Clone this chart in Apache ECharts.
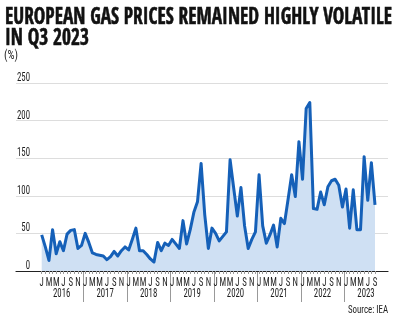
<!DOCTYPE html>
<html><head><meta charset="utf-8">
<script src="https://cdn.jsdelivr.net/npm/echarts@6/dist/echarts.min.js"></script>
<style>html,body{margin:0;padding:0;background:#fff}#c{width:400px;height:324px}</style>
</head><body><div id="c"></div>
<script>
const years = ['2016','2017','2018','2019','2020','2021','2022','2023'];
const monthLetters = ['J','F','M','A','M','J','J','A','S','O','N','D'];
const yTicks = [0, 50, 100, 150, 200, 250];
const v2016 = [48, 32, 14, 55, 23, 39, 27, 49, 54, 55, 30, 34];
const v2017 = [50, 38, 24, 22, 21, 20, 15, 19, 26, 20, 27, 32];
const v2018 = [28, 42, 57, 27, 27, 22, 16, 12, 38, 27, 37, 34];
const v2019 = [42, 36, 30, 67, 36, 55, 78, 92, 143, 75, 30, 57];
const v2020 = [50, 40, 46, 52, 148, 110, 73, 111, 60, 30, 42, 52];
const v2021 = [128, 60, 37, 48, 61, 32, 70, 63, 95, 128, 99, 172];
const v2022 = [122, 216, 224, 83, 82, 105, 88, 112, 120, 122, 114, 85];
const v2023 = [109, 57, 108, 55, 55, 152, 94, 144, 88];

const titleLine1 = 'EUROPEAN GAS PRICES REMAINED HIGHLY VOLATILE';
const titleLine2 = 'IN Q3 2023';
const unitLabel = '(%)';
const sourceLabel = 'Source: IEA';

const yearValues = [v2016, v2017, v2018, v2019, v2020, v2021, v2022, v2023];
const categories = [];
const values = [];
yearValues.forEach((arr, yi) => arr.forEach((v, mi) => {
  categories.push(years[yi] + '-' + (mi + 1));
  values.push(v);
}));

const ctx = document.createElement('canvas').getContext('2d');
function textWidth(font, s){ ctx.font = font; return ctx.measureText(s).width; }

const TITLE_FONT_FAMILY = '"Open Sans Condensed", "Roboto Condensed", "Liberation Sans", sans-serif';
const AXIS_FONT_FAMILY = '"Roboto Condensed", "DejaVu Sans Condensed", "Liberation Sans", sans-serif';
const titleFont = 'bold 23.5px ' + TITLE_FONT_FAMILY;
const titleScale = 387 / textWidth(titleFont, titleLine1);
const axisFontSize = 12;
const axisScale = 13 / textWidth(axisFontSize + 'px ' + AXIS_FONT_FAMILY, '250');
const unitFont = '13px ' + AXIS_FONT_FAMILY;
const unitScale = 14 / textWidth(unitFont, unitLabel);
const srcFont = '11.5px ' + AXIS_FONT_FAMILY;
const srcScale = 40 / textWidth(srcFont, sourceLabel);

const chart = echarts.init(document.getElementById('c'), null, {renderer: 'canvas'});
const gridTop = 83, gridBottom = 53;
const axisText = {fontFamily: AXIS_FONT_FAMILY, fontSize: axisFontSize, color: '#1e1e1e', lineHeight: 10};
const titleStyle = {font: titleFont, fill: '#111', stroke: '#111', lineWidth: 0.6, verticalAlign: 'middle', align: 'left'};
const option = {
  animation: false,
  backgroundColor: '#ffffff',
  grid: [
    {left: 16, right: 12, top: gridTop, bottom: gridBottom, outerBoundsMode: 'none'},
    {left: 41.7, right: 25, top: gridTop, bottom: gridBottom, outerBoundsMode: 'none'},
    {left: 39.9, right: 12.3, top: 271, height: 31, outerBoundsMode: 'none'}
  ],
  xAxis: [
    {gridIndex: 0, type: 'value', min: 0, max: 1, axisLine: {show: true, onZero: false, lineStyle: {color: '#222', width: 1.2}},
     axisTick: {show: false}, axisLabel: {show: false}, splitLine: {show: false}},
    {gridIndex: 1, type: 'category', data: categories, boundaryGap: false,
     axisLine: {show: false}, axisTick: {show: true, interval: 0, length: 3, lineStyle: {color: '#999'}},
     axisLabel: Object.assign({interval: 0, margin: 7, verticalAlign: 'top',
       formatter: (v, i) => (i % 2 === 0 ? monthLetters[i % 12] : '')}, axisText),
     splitLine: {show: false}},
    {gridIndex: 2, type: 'category', data: years, boundaryGap: true, position: 'top',
     axisLine: {show: false}, axisTick: {show: false},
     axisLabel: Object.assign({inside: true, margin: 18, verticalAlign: 'top', interval: 0}, axisText),
     splitLine: {show: false}},
    {gridIndex: 2, type: 'value', min: 0, max: 96, interval: 12, position: 'bottom',
     axisLine: {show: false}, axisTick: {show: false}, axisLabel: {show: false},
     splitLine: {show: true, showMinLine: false, showMaxLine: false, lineStyle: {color: '#999', width: 1}}}
  ],
  yAxis: [
    {gridIndex: 0, type: 'value', min: 0, max: 250, interval: 50,
     axisLine: {show: false}, axisTick: {show: false},
     axisLabel: Object.assign({inside: true, align: 'right', verticalAlign: 'bottom', margin: 14,
       formatter: v => (yTicks.indexOf(v) >= 0 ? String(v) : '')}, axisText),
     splitLine: {show: true, lineStyle: {color: '#dddddd', width: 1}}},
    {gridIndex: 1, type: 'value', min: 0, max: 250, interval: 50, show: false},
    {gridIndex: 2, type: 'value', min: 0, max: 1, show: false}
  ],
  graphic: [
    {type: 'text', x: 5, y: 17.4, scaleX: titleScale, style: Object.assign({text: titleLine1}, titleStyle)},
    {type: 'text', x: 5, y: 38.4, scaleX: titleScale, style: Object.assign({text: titleLine2}, titleStyle)},
    {type: 'text', x: 4, y: 55.5, scaleX: unitScale, style: {text: unitLabel, font: unitFont, fill: '#222', verticalAlign: 'middle', align: 'left'}},
    {type: 'text', x: 388, y: 310, scaleX: srcScale, style: {text: sourceLabel, font: srcFont, fill: '#222', verticalAlign: 'middle', align: 'right'}}
  ],
  series: [{
    type: 'line', xAxisIndex: 1, yAxisIndex: 1, data: values, symbol: 'none',
    lineStyle: {color: '#1560b8', width: 3, join: 'round'},
    areaStyle: {color: '#cfe0f3', opacity: 1},
    z: 3
  }]
};
chart.setOption(option);

// condense axis label text horizontally, as in the reference's narrow typeface
const axisStrings = new Set(monthLetters.concat(years, yTicks.map(String)));
function walk(el){
  if (el.type === 'text' && el.style && axisStrings.has(String(el.style.text)) && !el.__condensed) {
    el.scaleX = (el.scaleX || 1) * axisScale; el.originX = 0; el.__condensed = true; el.markRedraw();
  }
  if (el.isGroup && el.eachChild) el.eachChild(walk);
}
const zr = chart.getZr();
zr.storage.getRoots().forEach(walk);
zr.refreshImmediately();
</script></body></html>
